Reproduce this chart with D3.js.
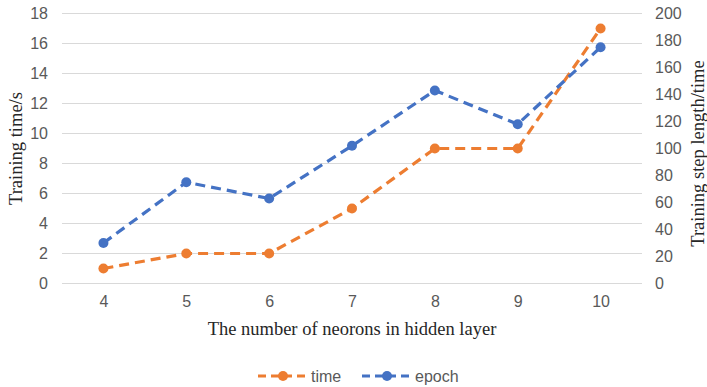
<!DOCTYPE html>
<html>
<head>
<meta charset="utf-8">
<script src="https://cdn.jsdelivr.net/npm/d3@7/dist/d3.min.js"></script>
<style>
  html, body { margin: 0; padding: 0; background: #fff; }
  svg { display: block; }
  .tick-label { font-family: "Liberation Sans", Arial, sans-serif; font-size: 16px; fill: #595959; }
  .axis-title { font-family: "Liberation Serif", "Times New Roman", serif; font-size: 18.5px; fill: #262626; }
</style>
</head>
<body>
<svg id="chart" width="707" height="387"></svg>
<script>
// Neuron counts in the hidden layer
const neurons = ["4", "5", "6", "7", "8", "9", "10"];
// Training time in seconds (left axis)
const timeValues = [1, 2, 2, 5, 9, 9, 17];
// Training epochs (right axis)
const epochValues = [30, 75, 63, 102, 143, 118, 175];
// Axis ticks
const leftTicks = [0, 2, 4, 6, 8, 10, 12, 14, 16, 18];
const rightTicks = [0, 20, 40, 60, 80, 100, 120, 140, 160, 180, 200];

const svg = d3.select("#chart");
const plot = { left: 62, right: 642, top: 13.5, bottom: 283.5 };

const x = d3.scalePoint().domain(neurons).range([plot.left, plot.right]).padding(0.5);
const yLeft = d3.scaleLinear().domain([0, 18]).range([plot.bottom, plot.top]);
const yRight = d3.scaleLinear().domain([0, 200]).range([plot.bottom, plot.top]);

// Horizontal gridlines
svg.append("g").selectAll("line").data(leftTicks).join("line")
  .attr("x1", plot.left).attr("x2", plot.right)
  .attr("y1", d => yLeft(d)).attr("y2", d => yLeft(d))
  .attr("stroke", "#d9d9d9").attr("stroke-width", 1.2);

// Left axis labels
const gl = svg.append("g").attr("transform", `translate(${plot.left - 14},0)`)
  .call(d3.axisLeft(yLeft).tickValues(leftTicks).tickSize(0).tickPadding(0));
gl.select(".domain").remove();
gl.selectAll("text").attr("class", "tick-label").attr("fill", null);
gl.attr("font-size", null).attr("font-family", null);

// Right axis labels
const gr = svg.append("g").attr("transform", `translate(${plot.right + 13},0)`)
  .call(d3.axisRight(yRight).tickValues(rightTicks).tickSize(0).tickPadding(0));
gr.select(".domain").remove();
gr.selectAll("text").attr("class", "tick-label").attr("fill", null);
gr.attr("font-size", null).attr("font-family", null);

// Category labels
const gx = svg.append("g").attr("transform", `translate(0,${plot.bottom + 12})`)
  .call(d3.axisBottom(x).tickSize(0).tickPadding(0));
gx.select(".domain").remove();
gx.selectAll("text").attr("class", "tick-label").attr("fill", null).attr("dy", "0.71em");
gx.attr("font-size", null).attr("font-family", null);

// Axis titles
svg.append("text").attr("class", "axis-title")
  .attr("x", (plot.left + plot.right) / 2).attr("y", 335)
  .attr("text-anchor", "middle").text("The number of neorons in hidden layer");
svg.append("text").attr("class", "axis-title")
  .attr("transform", `translate(22,${(plot.top + plot.bottom) / 2}) rotate(-90)`)
  .attr("text-anchor", "middle").text("Training time/s");
svg.append("text").attr("class", "axis-title")
  .attr("transform", `translate(704,${(plot.top + plot.bottom) / 2 + 5}) rotate(-90)`)
  .attr("text-anchor", "middle").text("Training step length/time");

// Series
const series = [
  { name: "time", values: timeValues, y: yLeft, color: "#ED7D31" },
  { name: "epoch", values: epochValues, y: yRight, color: "#4472C4" }
];

series.forEach(s => {
  const line = d3.line().x((d, i) => x(neurons[i])).y(d => s.y(d));
  const g = svg.append("g");
  g.append("path").datum(s.values)
    .attr("d", line).attr("fill", "none")
    .attr("stroke", s.color).attr("stroke-width", 3.2)
    .attr("stroke-dasharray", "10,6");
  g.selectAll("circle").data(s.values).join("circle")
    .attr("cx", (d, i) => x(neurons[i])).attr("cy", d => s.y(d))
    .attr("r", 5).attr("fill", s.color);
});

// Legend
const legendItems = [
  { name: "time", color: "#ED7D31", x0: 258 },
  { name: "epoch", color: "#4472C4", x0: 362 }
];
const lg = svg.append("g");
legendItems.forEach(it => {
  const ly = 376;
  lg.append("line").attr("x1", it.x0).attr("x2", it.x0 + 50)
    .attr("y1", ly).attr("y2", ly)
    .attr("stroke", it.color).attr("stroke-width", 3.2).attr("stroke-dasharray", "8,5");
  lg.append("circle").attr("cx", it.x0 + 25).attr("cy", ly).attr("r", 5).attr("fill", it.color);
  lg.append("text").attr("class", "tick-label")
    .attr("x", it.x0 + 53).attr("y", ly).attr("dy", "0.35em").text(it.name);
});
</script>
</body>
</html>
